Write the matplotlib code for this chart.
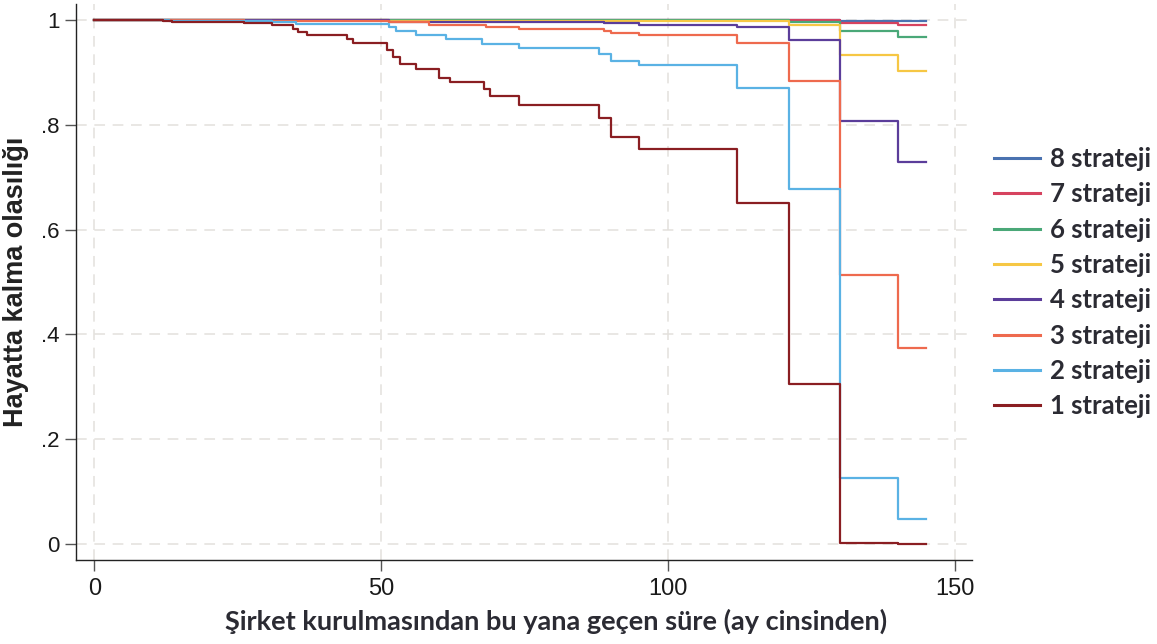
import matplotlib
matplotlib.use("Agg")
import matplotlib.pyplot as plt

# survival step data (time in months, Kaplan-Meier estimate)
t1 = [0, 12, 13.5, 26, 31, 34.6, 35.5, 37, 44, 45, 51, 52, 53.2, 56, 60, 62, 68, 69, 74,
      88, 90, 95, 112, 121, 130, 140, 145]
s1 = [1.0, 0.997, 0.996, 0.993, 0.989, 0.982, 0.977, 0.971, 0.963, 0.955, 0.943, 0.928, 0.916,
      0.906, 0.888, 0.881, 0.868, 0.854, 0.838, 0.812, 0.776, 0.754, 0.650, 0.305, 0.003, 0.0, 0.0]

t2 = [0, 13, 31, 35.2, 51.4, 52.6, 56, 61.3, 67.6, 74.1, 88, 90, 95, 112, 121, 130, 140, 145]
s2 = [1.0, 0.998, 0.995, 0.992, 0.986, 0.979, 0.971, 0.963, 0.953, 0.946, 0.935, 0.922, 0.914,
      0.869, 0.678, 0.127, 0.048, 0.048]

t3 = [0, 13, 26, 51.4, 58.4, 68.3, 74.1, 88.8, 90, 95, 112, 121, 130, 140, 145]
s3 = [1.0, 0.999, 0.998, 0.995, 0.990, 0.986, 0.982, 0.978, 0.974, 0.971, 0.956, 0.883, 0.513,
      0.374, 0.374]

t4 = [0, 13, 51.4, 88.8, 95, 112, 121, 130, 140, 145]
s4 = [1.0, 0.999, 0.996, 0.993, 0.990, 0.986, 0.962, 0.806, 0.728, 0.728]

t5 = [0, 13, 51, 121, 130, 140, 145]
s5 = [1.0, 0.999, 0.998, 0.989, 0.933, 0.903, 0.903]

t6 = [0, 121, 130, 140, 145]
s6 = [1.0, 0.996, 0.978, 0.967, 0.967]

t7 = [0, 130, 140, 145]
s7 = [1.0, 0.993, 0.990, 0.990]

t8 = [0, 26, 130, 140, 145]
s8 = [1.0, 0.999, 0.998, 0.997, 0.997]

labels = ["1 strateji", "2 strateji", "3 strateji", "4 strateji",
          "5 strateji", "6 strateji", "7 strateji", "8 strateji"]
colors = ["#8a1e22", "#5ab2e4", "#ee6a4e", "#5b3d9a",
          "#f6c744", "#4aa878", "#d6435f", "#4a72b0"]
times = [t1, t2, t3, t4, t5, t6, t7, t8]
surv = [s1, s2, s3, s4, s5, s6, s7, s8]

x_ticks = [0, 50, 100, 150]
y_ticks = [0, 0.2, 0.4, 0.6, 0.8, 1.0]
y_ticklabels = ["0", ".2", ".4", ".6", ".8", "1"]

fig = plt.figure(figsize=(11.57, 6.44), dpi=100)
ax = fig.add_axes([0.0657, 0.1304, 0.7745, 0.8634])

handles = {}
for i in reversed(range(8)):
    (ln,) = ax.step(times[i], surv[i], where="post", color=colors[i], lw=1.6, zorder=3)
    handles[i] = ln

ax.set_xlim(-3.2, 153)
ax.set_ylim(-0.03, 1.03)
ax.set_xticks(x_ticks)
ax.set_yticks(y_ticks)
ax.set_yticklabels(y_ticklabels)
ax.grid(True, color="#e3e0dc", lw=1.1, ls=(0, (7, 5)), zorder=0)
for side in ("top", "right"):
    ax.spines[side].set_visible(False)
for side in ("left", "bottom"):
    ax.spines[side].set_color("#222222")
    ax.spines[side].set_linewidth(1.0)
ax.tick_params(axis="both", length=8, width=1.0, color="#555555", labelcolor="#1a1a1a")
ax.tick_params(axis="x", labelsize=17, pad=5)
ax.tick_params(axis="y", labelsize=16, pad=4)
for lab in ax.get_xticklabels() + ax.get_yticklabels():
    lab.set_family("Liberation Sans")

ax.set_ylabel("Hayatta kalma olasılığı", fontsize=19.5, fontweight="bold",
              family="Liberation Sans", color="#222222")
ax.yaxis.set_label_coords(-0.052, 0.5)
ax.set_xlabel("Şirket kurulmasından bu yana geçen süre (ay cinsinden)", fontsize=19.5,
              fontweight="bold", family="Lato", color="#2b2b33")
ax.xaxis.set_label_coords(0.536, -0.087)

order = list(range(7, -1, -1))
leg = fig.legend([handles[i] for i in order], [labels[i] for i in order],
                 loc="center left", bbox_to_anchor=(0.839, 0.561), frameon=False,
                 handlelength=1.79, handletextpad=0.39, labelspacing=0.44,
                 prop={"family": "Lato", "weight": "bold", "size": 18.5})
for txt in leg.get_texts():
    txt.set_color("#2b2b33")
for ln in leg.get_lines():
    ln.set_linewidth(2.2)

fig.savefig("out.png", dpi=100)
